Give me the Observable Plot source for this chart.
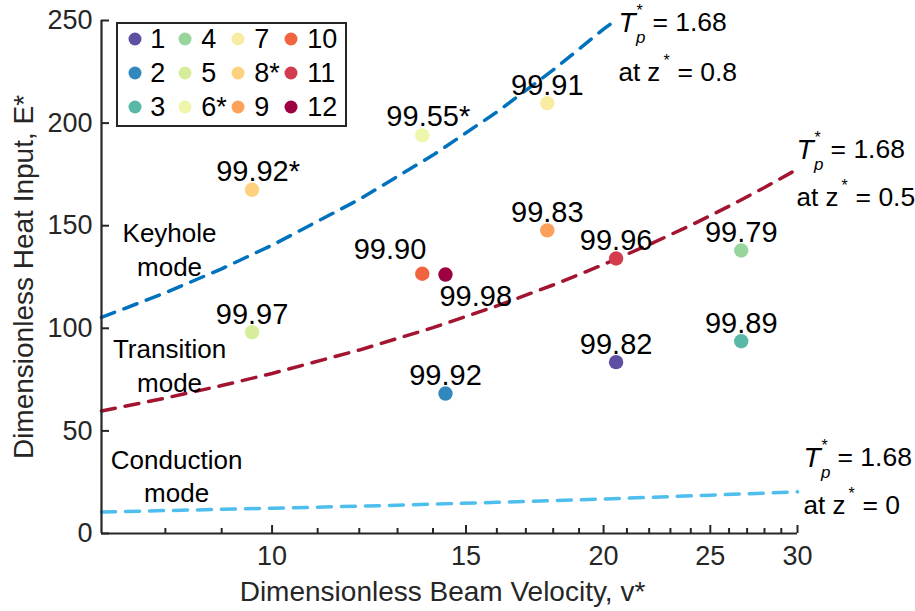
<!DOCTYPE html>
<html><head><meta charset="utf-8">
<script src="https://cdn.jsdelivr.net/npm/d3@7"></script>
<script src="https://cdn.jsdelivr.net/npm/@observablehq/plot@0.6"></script>
<style>
html,body{margin:0;padding:0;background:#fff;}
#wrap{position:relative;width:915px;height:611px;font-family:"Liberation Sans",Arial,Helvetica,sans-serif;}
.leg{position:absolute;left:116px;top:22px;width:231px;height:105px;box-sizing:border-box;border:2.7px solid #262626;background:#fff;}
.ld{position:absolute;width:13px;height:13px;border-radius:50%;transform:translate(-50%,-50%);}
.lt{position:absolute;font-size:27px;line-height:30px;transform:translateY(-50%);color:#000;white-space:nowrap;}
</style></head><body><div id="wrap"></div>
<script>
// ---- data ----
const sampleIds    = ["1","2","3","4","5","6*","7","8*","9","10","11","12"];
const sampleColors = ["#5e4fa2","#3288bd","#5ab8a6","#97d59c","#d6ee9b","#eff6ab","#f8eca2","#fdd17d","#fca05a","#f0653f","#d23c4e","#9e0142"];
const velocity     = [20.53,14.37,26.67,26.67,9.59,13.69,17.78,9.59,17.78,13.69,20.53,14.37];
const heatInput    = [83.5,68.2,93.7,137.9,98.1,194.0,209.7,167.5,147.7,126.6,134.0,126.2];
const density      = ["99.82","99.92","99.89","99.79","99.97","99.55*","99.91","99.92*","99.83","99.90","99.96","99.98"];

const curveZ08V = [7,8,9,10,12,14,16,18,20,20.5];
const curveZ08E = [105.3,117.3,129.0,140.5,162.8,184.4,205.4,225.9,245.8,250];
const curveZ05V = [7,8,9,10,12,14,16,18,20,22,24,26,28,30];
const curveZ05E = [59.7,66.0,72.1,78.0,89.4,100.3,110.9,121.1,131.1,140.8,150.2,159.5,168.6,177.6];
const curveZ0V  = [7,10,13,16,20,25,30];
const curveZ0E  = [10.5,12.3,13.8,15.2,16.8,18.7,20.3];

const xMajorTicks = [10,15,20,25,30];
const xMinorTicks = [8,9,11,12,13,14,16,17,18,19,21,22,23,24,26,27,28,29];
const yTicks = [0,50,100,150,200,250];

const modeNames = ["Keyhole\nmode","Transition\nmode","Conduction\nmode"];
const modeV = [8.07,8.07,8.19];
const modeE = [139.2,82.7,28.7];

const annoZ  = ["0.8","0.5","0"];
const annoV  = [20.63,29.94,30.38];
const annoE1 = [249.0,187.1,37.0];
const annoE2 = [224.7,163.7,13.6];
const annoTp = "1.68";

const xTitle = "Dimensionless Beam Velocity, v*";
const yTitle = "Dimensionless Heat Input, E*";

// ---- build ----
const pts = sampleIds.map((id,i)=>({id, v:velocity[i], e:heatInput[i], label:density[i], color:sampleColors[i]}));
const mk = (V,E)=>V.map((v,i)=>({v, e:E[i]}));
const axisColor = "#262626";
const plotW = 915-101-118, plotH = 611-20-78;
const ai = annoV.map((_,i)=>i);
const mi = modeNames.map((_,i)=>i);

const plain = pts.filter(p=>p.id!=="10" && p.id!=="12" && !p.label.endsWith("*"));
const starred = pts.filter(p=>p.label.endsWith("*"));
const chart = Plot.plot({
  width:915, height:611,
  marginLeft:101, marginRight:118, marginTop:20, marginBottom:78,
  x:{type:"log", domain:[7,30]},
  y:{domain:[0,250]},
  style:{fontFamily:'"Liberation Sans",Arial,Helvetica,sans-serif', background:"white", overflow:"visible", color:"#000"},
  marks:[
    // curves
    Plot.line(mk(curveZ08V,curveZ08E),{x:"v",y:"e",stroke:"#0072BD",strokeWidth:3.5,strokeDasharray:"14,10"}),
    Plot.line(mk(curveZ05V,curveZ05E),{x:"v",y:"e",stroke:"#A2142F",strokeWidth:3.5,strokeDasharray:"14,10"}),
    Plot.line(mk(curveZ0V,curveZ0E),{x:"v",y:"e",stroke:"#4DBEEE",strokeWidth:3.5,strokeDasharray:"14,10"}),
    // axes
    Plot.ruleX([7],{stroke:axisColor,strokeWidth:2.2}),
    Plot.ruleY([0],{stroke:axisColor,strokeWidth:2.2}),
    Plot.ruleX(xMajorTicks,{x:d=>d,insetTop:plotH-8,stroke:axisColor,strokeWidth:2}),
    Plot.ruleX(xMinorTicks,{x:d=>d,insetTop:plotH-5,stroke:axisColor,strokeWidth:2}),
    Plot.ruleY(yTicks,{y:d=>d,insetRight:plotW-8,stroke:axisColor,strokeWidth:2}),
    Plot.axisX(xMajorTicks,{tickSize:0,tickPadding:12,fontSize:27,tickFormat:d=>String(d),label:null,color:axisColor}),
    Plot.axisY(yTicks,{tickSize:0,tickPadding:9,fontSize:27,tickFormat:d=>String(d),label:null,color:axisColor}),
    Plot.text([xTitle],{frameAnchor:"bottom",dy:59,dx:-7,fontSize:28,textAnchor:"middle",lineAnchor:"middle",fill:axisColor}),
    Plot.text([yTitle],{frameAnchor:"left",dx:-77,rotate:-90,fontSize:28,textAnchor:"middle",lineAnchor:"middle",fill:axisColor}),
    // point labels
    Plot.text(plain,{x:"v",y:"e",text:"label",fontSize:29,lineAnchor:"bottom",dy:-8.5,fill:"#000"}),
    Plot.text(starred,{x:"v",y:"e",text:"label",fontSize:29,lineAnchor:"bottom",dx:6,dy:-9,fill:"#000"}),
    Plot.text(pts.filter(p=>p.id==="10"),{x:"v",y:"e",text:"label",fontSize:29,lineAnchor:"bottom",textAnchor:"end",dx:4,dy:-15,fill:"#000"}),
    Plot.text(pts.filter(p=>p.id==="12"),{x:"v",y:"e",text:"label",fontSize:29,lineAnchor:"bottom",textAnchor:"start",dx:-6,dy:31,fill:"#000"}),
    // points
    Plot.dot(pts,{x:"v",y:"e",r:7.2,fill:"color",stroke:null}),
    // mode labels
    Plot.text(mi,{x:i=>modeV[i],y:i=>modeE[i],text:i=>modeNames[i],fontSize:26,lineHeight:1.3,lineAnchor:"middle",fill:"#000"}),
    // annotations
    Plot.text(ai,{x:i=>annoV[i],y:i=>annoE1[i],text:()=>"T",fontSize:28,fontStyle:"italic",textAnchor:"start",lineAnchor:"middle",fill:"#000"}),
    Plot.text(ai,{x:i=>annoV[i],y:i=>annoE1[i],text:()=>"p",fontSize:17,fontStyle:"italic",textAnchor:"start",lineAnchor:"middle",dx:17.5,dy:15,fill:"#000"}),
    Plot.text(ai,{x:i=>annoV[i],y:i=>annoE1[i],text:()=>"*",fontSize:16,textAnchor:"start",lineAnchor:"middle",dx:18,dy:-12,fill:"#000"}),
    Plot.text(ai,{x:i=>annoV[i],y:i=>annoE1[i],text:()=>"= "+annoTp,fontSize:26.5,textAnchor:"start",lineAnchor:"middle",dx:34,fill:"#000"}),
    Plot.text(ai,{x:i=>annoV[i],y:i=>annoE2[i],text:()=>"at z",fontSize:26,textAnchor:"start",lineAnchor:"middle",fill:"#000"}),
    Plot.text(ai,{x:i=>annoV[i],y:i=>annoE2[i],text:()=>"*",fontSize:16,textAnchor:"start",lineAnchor:"middle",dx:45,dy:-12,fill:"#000"}),
    Plot.text(ai,{x:i=>annoV[i],y:i=>annoE2[i],text:i=>"= "+annoZ[i],fontSize:26.5,textAnchor:"start",lineAnchor:"middle",dx:59,fill:"#000"})
  ]
});
const wrap = document.getElementById("wrap");
wrap.appendChild(chart);

// legend (HTML overlay)
const leg = document.createElement("div");
leg.className = "leg";
wrap.appendChild(leg);
const colMarkerX = [136,186,239,292], colTextX = [151,202,255,308], rowY = [40,74,108];
sampleIds.forEach((id,i)=>{
  const c = Math.floor(i/3), r = i%3;
  const d = document.createElement("div");
  d.className = "ld";
  d.style.left = (colMarkerX[c]-116-2.7)+"px";
  d.style.top = (rowY[r]-22-2.7)+"px";
  d.style.background = sampleColors[i];
  leg.appendChild(d);
  const t = document.createElement("div");
  t.className = "lt";
  t.style.left = (colTextX[c]-116-2.7)+"px";
  t.style.top = (rowY[r]-22-2.7)+"px";
  t.textContent = id;
  leg.appendChild(t);
});
</script>
</body></html>
